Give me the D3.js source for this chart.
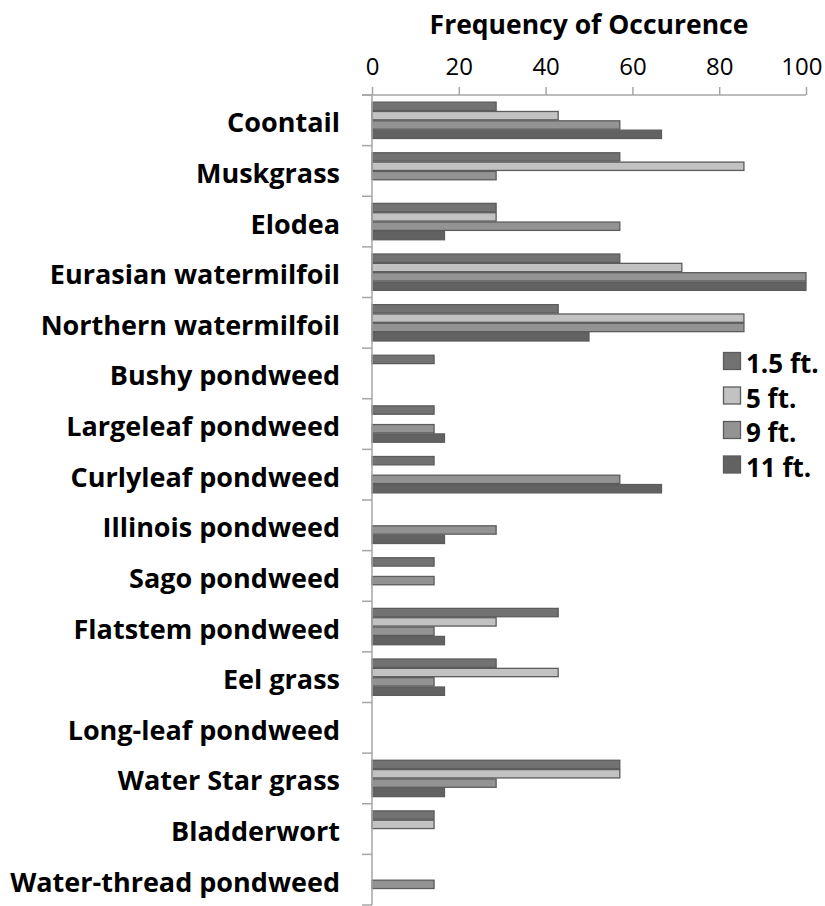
<!DOCTYPE html>
<html>
<head>
<meta charset="utf-8">
<script src="https://cdn.jsdelivr.net/npm/d3@7"></script>
<style>
  html, body { margin: 0; padding: 0; background: #fff; }
  svg text { font-family: "Open Sans", "Noto Sans", sans-serif; }
</style>
</head>
<body>
<svg id="chart" width="825" height="906"></svg>
<script>
const categories = [
  "Coontail", "Muskgrass", "Elodea", "Eurasian watermilfoil",
  "Northern watermilfoil", "Bushy pondweed", "Largeleaf pondweed",
  "Curlyleaf pondweed", "Illinois pondweed", "Sago pondweed",
  "Flatstem pondweed", "Eel grass", "Long-leaf pondweed",
  "Water Star grass", "Bladderwort", "Water-thread pondweed"
];
const seriesNames = ["1.5 ft.", "5 ft.", "9 ft.", "11 ft."];
const depth15 = [28.6, 57.1, 28.6, 57.1, 42.9, 14.3, 14.3, 14.3, 0, 14.3, 42.9, 28.6, 0, 57.1, 14.3, 0];
const depth5  = [42.9, 85.7, 28.6, 71.4, 85.7, 0, 0, 0, 0, 0, 28.6, 42.9, 0, 57.1, 14.3, 0];
const depth9  = [57.1, 28.6, 57.1, 100, 85.7, 0, 14.3, 57.1, 28.6, 14.3, 14.3, 14.3, 0, 28.6, 0, 14.3];
const depth11 = [66.7, 0, 16.7, 100, 50, 0, 16.7, 66.7, 16.7, 0, 16.7, 16.7, 0, 16.7, 0, 0];
const xTicks = [0, 20, 40, 60, 80, 100];
const title = "Frequency of Occurence";

const seriesValues = [depth15, depth5, depth9, depth11];
const fills = ["#727272", "#c2c2c2", "#939393", "#626262"];
const strokeCol = "#5c5c5c";

const svg = d3.select("#chart");
const W = 825;
const mLeft = 372, mRight = 806, mTop = 95, mBottom = 905;

const x = d3.scaleLinear().domain([0, 100]).range([mLeft, mRight]);
const y0 = d3.scaleBand().domain(categories).range([mTop, mBottom]).paddingInner(0).paddingOuter(0);
const y1 = d3.scaleBand().domain(seriesNames).range([0, y0.bandwidth()]).paddingInner(0).paddingOuter(0.71);

// bars
const rows = [];
categories.forEach((c, i) => {
  seriesNames.forEach((s, j) => {
    rows.push({cat: c, ser: s, j: j, v: seriesValues[j][i]});
  });
});
svg.append("g").selectAll("rect")
  .data(rows.filter(d => d.v > 0))
  .join("rect")
  .attr("x", x(0))
  .attr("y", d => y0(d.cat) + y1(d.ser) + 0.5)
  .attr("width", d => x(d.v) - x(0))
  .attr("height", y1.bandwidth() - 1)
  .attr("fill", d => fills[d.j])
  .attr("stroke", strokeCol)
  .attr("stroke-width", 1.3);

// top axis
const axisCol = "#a6a6a6";
const gx = svg.append("g").attr("transform", `translate(0,${mTop})`)
  .call(d3.axisTop(x).tickValues(xTicks).tickSize(8).tickPadding(12).tickFormat(d3.format("d")));
gx.select(".domain").attr("stroke", axisCol).attr("stroke-width", 1.5)
  .attr("d", `M${mLeft - 10},0H${mRight}`);
gx.selectAll(".tick line").attr("stroke", axisCol).attr("stroke-width", 1.5);
gx.selectAll(".tick text").attr("font-size", 24).attr("fill", "#000")
  .style("font-family", "'Open Sans', sans-serif");
// keep tick labels inside the picture (the reference nudges "100" left)
gx.selectAll(".tick").each(function(d) {
  const t = d3.select(this).select("text");
  const w = t.node().getComputedTextLength();
  const overflow = x(d) + w / 2 - (W - 3);
  if (overflow > 0) t.attr("x", -overflow);
});

// left axis
const gy = svg.append("g").attr("transform", `translate(${mLeft},0)`);
gy.append("line").attr("x1", 0).attr("x2", 0).attr("y1", mTop).attr("y2", mBottom)
  .attr("stroke", axisCol).attr("stroke-width", 1.5);
gy.selectAll("line.tk")
  .data(categories.map(c => y0(c)).concat([mBottom]))
  .join("line").attr("class", "tk")
  .attr("x1", -10).attr("x2", 0)
  .attr("y1", d => d).attr("y2", d => d)
  .attr("stroke", axisCol).attr("stroke-width", 1.5);

// category labels
svg.append("g").selectAll("text")
  .data(categories)
  .join("text")
  .attr("x", 340)
  .attr("y", d => y0(d) + y0.bandwidth() / 2 + 12)
  .attr("text-anchor", "end")
  .attr("font-size", 27)
  .attr("font-weight", "bold")
  .attr("fill", "#000")
  .text(d => d);

// title
svg.append("text")
  .attr("x", 589).attr("y", 34)
  .attr("text-anchor", "middle")
  .attr("font-size", 26.5)
  .attr("font-weight", "bold")
  .attr("fill", "#000")
  .text(title);

// legend
const lg = svg.append("g").attr("transform", "translate(723,352)");
seriesNames.forEach((s, j) => {
  const g = lg.append("g").attr("transform", `translate(0,${j * 34.5})`);
  g.append("rect").attr("x", 0.5).attr("y", 0.5).attr("width", 17).attr("height", 17)
    .attr("fill", fills[j]).attr("stroke", strokeCol).attr("stroke-width", 1.3);
  g.append("text").attr("x", 23).attr("y", 21)
    .attr("font-size", 26).attr("font-weight", "bold").attr("fill", "#000")
    .text(s);
});
</script>
</body>
</html>
